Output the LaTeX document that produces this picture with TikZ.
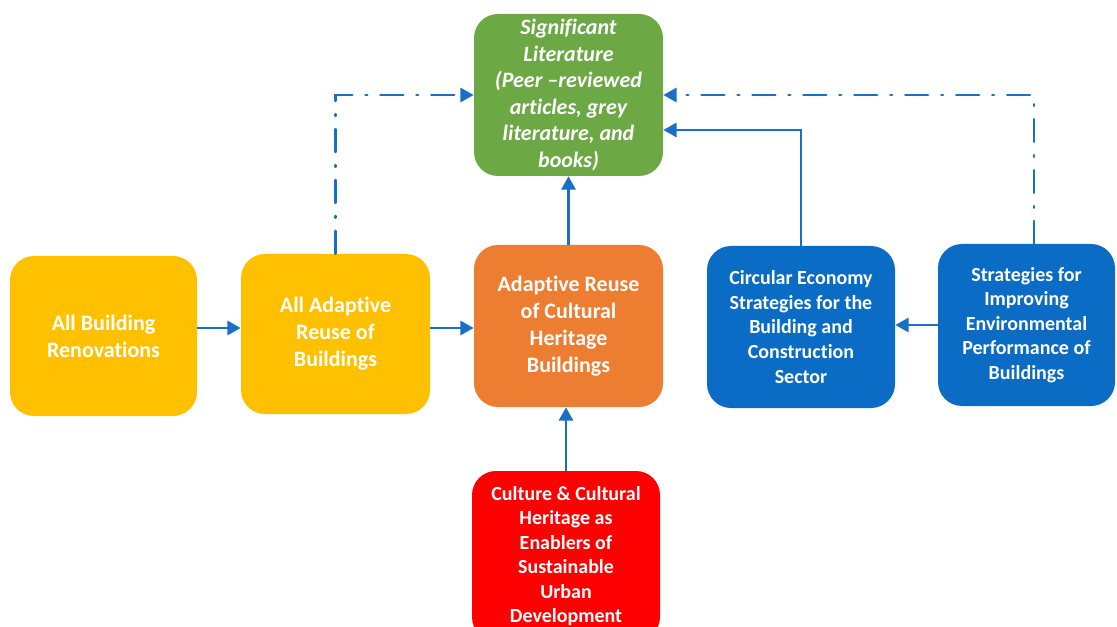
\documentclass[tikz,border=0pt]{standalone}
\usepackage{fontspec}
\setmainfont{Carlito}[Ligatures=NoCommon]
\usetikzlibrary{arrows.meta}
\definecolor{cgreen}{HTML}{6CA944}
\definecolor{cyellow}{HTML}{FFC000}
\definecolor{corange}{HTML}{ED7D31}
\definecolor{cblue}{HTML}{0A6CC4}
\definecolor{cred}{HTML}{FF0000}
\definecolor{carrow}{HTML}{1A6FC8}
\begin{document}
\begin{tikzpicture}[x=0.75pt,y=-0.75pt,
  box/.style={rounded corners=18pt, text=white, align=center, inner sep=0pt,
    font=\bfseries\fontsize{16.5}{20.3}\selectfont},
  smallbox/.style={box, font=\bfseries\fontsize{15}{18.4}\selectfont},
  conn/.style={draw=carrow, line width=2.1pt, -{Triangle[length=10pt,width=10.5pt]}},
  dd/.style={conn, line cap=round, dash pattern=on 17pt off 10pt on 1.2pt off 10pt}]
\useasboundingbox (0,0) rectangle (1117,627);
\node[box, fill=cgreen, minimum width=141.75pt, minimum height=121.5pt,
  font=\bfseries\itshape\fontsize{16.5}{19.9}\selectfont] (gr) at (568.5,95)
  {Significant\\Literature\\(Peer --reviewed\\articles, grey\\literature, and\\books)};
\node[box, fill=cyellow, minimum width=140.25pt, minimum height=120pt] (y1) at (103.5,336)
  {All Building\\Renovations};
\node[box, fill=cyellow, minimum width=141.75pt, minimum height=120pt] (y2) at (335.5,334)
  {All Adaptive\\Reuse of\\Buildings};
\node[box, fill=corange, minimum width=141.75pt, minimum height=121.5pt] (or) at (568.5,326)
  {Adaptive Reuse\\of Cultural\\Heritage\\Buildings};
\node[smallbox, fill=cblue, minimum width=141pt, minimum height=121.5pt] (b1) at (801,327)
  {Circular Economy\\Strategies for the\\Building and\\Construction\\Sector};
\node[smallbox, fill=cblue, minimum width=132.75pt, minimum height=121.5pt] (b2) at (1026.5,325)
  {Strategies for\\Improving\\Environmental\\Performance of\\Buildings};
\node[smallbox, fill=cred, minimum width=141pt, minimum height=127.5pt] (rd) at (566,556)
  {Culture \& Cultural\\Heritage as\\Enablers of\\Sustainable\\Urban\\Development};
\draw[conn] ([yshift=6pt]y1.east) -- ([yshift=6pt]y1.east -| y2.west);
\draw[conn] ([yshift=4.5pt]y2.east) -- ([yshift=4.5pt]y2.east -| or.west);
\draw[conn] (b2.west) -- (b2.west -| b1.east);
\draw[conn] (or.north) -- (gr.south);
\draw[conn] (rd.north) -- (rd.north |- or.south);
\draw[conn] (b1.north) |- ([yshift=-26.25pt]gr.east);
\draw[dd] (y2.north) |- (gr.west);
\draw[dd] ([xshift=5.6pt]b2.north) |- (gr.east);
\end{tikzpicture}
\end{document}
